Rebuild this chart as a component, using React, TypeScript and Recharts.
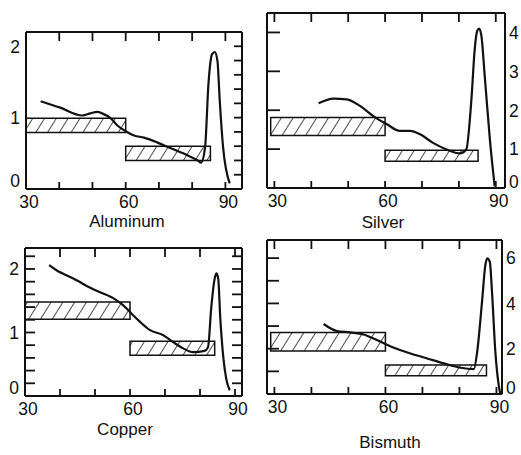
import React from "react";
import { LineChart, Line, XAxis, YAxis, ReferenceArea, ReferenceLine } from "recharts";

// x axis (angle) shared by all four panels
const xTicks = [30, 40, 50, 60, 70, 80, 90];
const xLabels = [30, 60, 90];

// Aluminum
const alX = [34.4, 40.3, 46.9, 49.4, 51.4, 52.9, 55.5, 57.5, 60, 62.5, 65.5, 69.6, 73.6, 78.7, 81.7, 82.7, 83.9, 84.9, 86, 86.8, 87.6, 88.3, 89.3, 91.3];
const alY = [1.23, 1.14, 1.03, 1.06, 1.08, 1.06, 0.99, 0.89, 0.81, 0.75, 0.72, 0.65, 0.57, 0.47, 0.4, 0.37, 0.59, 1.47, 1.89, 1.92, 1.8, 1.24, 0.59, 0.08];
const alBands = [
  { x1: 30, x2: 60, y1: 0.79, y2: 0.99 },
  { x1: 60, x2: 85.5, y1: 0.4, y2: 0.6 },
];
const alTicks = [0.2, 0.4, 0.6, 0.8, 1, 1.2, 1.4, 1.6, 1.8, 2];

// Silver
const agX = [42, 46, 49.6, 53.2, 56.8, 60.5, 64, 66.8, 69.5, 73, 76.7, 80.3, 82, 83.4, 84.3, 85, 85.5, 86.1, 87, 88.4, 89.7];
const agY = [2.18, 2.3, 2.28, 2.11, 1.85, 1.64, 1.47, 1.47, 1.38, 1.16, 0.99, 0.89, 0.99, 2.28, 3.58, 4.05, 4.1, 3.92, 2.89, 1.25, 0.04];
const agBands = [
  { x1: 29, x2: 60, y1: 1.35, y2: 1.81 },
  { x1: 60, x2: 85.2, y1: 0.69, y2: 0.97 },
];
const agTicks = [0, 1, 2, 3, 4];

// Copper
const cuX = [36.9, 39, 43.8, 49.5, 55.2, 58, 60.4, 62.8, 65.6, 69.4, 72.3, 75.2, 78, 81.3, 82.3, 83.2, 84.2, 84.7, 85.2, 85.8, 86.7, 87.5, 88.5];
const cuY = [2.06, 1.98, 1.85, 1.68, 1.54, 1.43, 1.3, 1.17, 1.04, 0.96, 0.85, 0.75, 0.69, 0.71, 0.77, 1.38, 1.85, 1.93, 1.85, 1.22, 0.59, 0.27, 0.09];
const cuBands = [
  { x1: 30, x2: 60, y1: 1.21, y2: 1.48 },
  { x1: 60, x2: 84.2, y1: 0.64, y2: 0.86 },
];
const cuTicks = [0, 0.2, 0.4, 0.6, 0.8, 1, 1.2, 1.4, 1.6, 1.8, 2, 2.2];

// Bismuth
const biX = [43.3, 46.9, 50.5, 54.1, 57.7, 62.3, 66.8, 71.3, 75.8, 80.3, 83.9, 84.8, 86.1, 87, 87.5, 88.2, 88.8, 89.7, 90.6, 91];
const biY = [3.09, 2.78, 2.72, 2.63, 2.38, 2.04, 1.79, 1.57, 1.35, 1.16, 1.1, 1.87, 4.07, 5.69, 5.99, 5.84, 4.51, 1.87, 0.4, 0.03];
const biBands = [
  { x1: 29, x2: 60, y1: 1.9, y2: 2.72 },
  { x1: 60, x2: 87.3, y1: 0.81, y2: 1.28 },
];
const biTicks = [0, 1, 2, 3, 4, 5, 6];
const biLabels = [0, 2, 4, 6];

const INK = "#111";
const FONT = "'Liberation Sans', Arial, sans-serif";

const mkTick = (side: string, len: number, labels: number[]) => (p: any) => {
  const { x, y, payload } = p;
  const v = payload.value;
  const show = labels.includes(v);
  let x2 = x, y2 = y;
  let tx = x, ty = y, anchor = "middle", dy = "0.36em";
  if (side === "bottom") {
    y2 = y - len; tx = x + 3; ty = y + 7; dy = "0.71em";
  } else if (side === "top") {
    y2 = y + len;
  } else if (side === "left") {
    x2 = x + len; tx = x - 6; ty = v === 0 ? y - 8 : y; anchor = "end";
  } else {
    x2 = x - len; tx = x + 4; ty = v === 0 ? y - 6 : y; anchor = "start";
  }
  return (
    <g>
      {len > 0 && <line x1={x} x2={x2} y1={y} y2={y2} stroke={INK} strokeWidth={1.8} />}
      {show && (
        <text x={tx} y={ty} dy={dy} textAnchor={anchor} fill={INK} fontSize={17.5} fontFamily={FONT}>{v}</text>
      )}
    </g>
  );
};

function Panel(props: any) {
  const {
    id, left, top, width, height, margin, xDomain, yDomain, xs, ys, bands,
    leftW, rightW, leftTicks, rightTicks, leftLen, rightLen, leftLabels, rightLabels,
    title, titleX, titleY,
  } = props;
  const data = xs.map((x: number, i: number) => ({ x, y: ys[i] }));
  const axisLine = { stroke: INK, strokeWidth: 2 };

  // inward tick marks on top, bottom and right edges, as short segments in data units
  const plotW = width - margin.left - margin.right - leftW - rightW;
  const plotH = height - margin.top - margin.bottom - 31;
  const [x0, x1] = xDomain;
  const [y0, y1] = yDomain;
  const perPxX = (x1 - x0) / plotW;
  const perPxY = (y1 - y0) / plotH;
  const innerX = xTicks.filter((v) => v > x0 && v < x1);
  const innerR = rightTicks.filter((v: number) => v > y0 && v < y1);
  const segs: any[] = [];
  innerX.forEach((v) => {
    segs.push([{ x: v, y: y0 }, { x: v, y: y0 + 7 * perPxY }]);
    segs.push([{ x: v, y: y1 }, { x: v, y: y1 - 9 * perPxY }]);
  });
  if (rightLen > 0) {
    innerR.forEach((v: number) => {
      segs.push([{ x: x1, y: v }, { x: x1 - rightLen * perPxX, y: v }]);
    });
  }

  return (
    <>
      <div style={{ position: "absolute", left, top }}>
        <LineChart width={width} height={height} data={data} margin={margin}>
          <defs>
            <pattern id={id} patternUnits="userSpaceOnUse" width={10} height={10} patternTransform="rotate(32)">
              <line x1={0} y1={0} x2={0} y2={10} stroke={INK} strokeWidth={1.5} />
            </pattern>
          </defs>
          <XAxis xAxisId="b" dataKey="x" type="number" domain={xDomain} ticks={xTicks} interval={0}
            allowDataOverflow height={30} tickSize={0} tickMargin={0} axisLine={axisLine} tickLine={false}
            tick={mkTick("bottom", 0, xLabels)} />
          <XAxis xAxisId="t" orientation="top" dataKey="x" type="number" domain={xDomain} ticks={xTicks} interval={0}
            allowDataOverflow height={1} tickSize={0} tickMargin={0} axisLine={axisLine} tickLine={false}
            tick={false} />
          <YAxis yAxisId="l" type="number" domain={yDomain} ticks={leftTicks} interval={0} allowDataOverflow
            width={leftW} tickSize={0} tickMargin={0} axisLine={axisLine} tickLine={false}
            tick={mkTick("left", leftLen, leftLabels)} />
          <YAxis yAxisId="r" orientation="right" type="number" domain={yDomain} ticks={rightTicks} interval={0}
            allowDataOverflow width={rightW} tickSize={0} tickMargin={0} axisLine={axisLine} tickLine={false}
            tick={mkTick("right", 0, rightLabels)} />
          {bands.map((b: any, i: number) => (
            <ReferenceArea key={i} xAxisId="b" yAxisId="l" x1={b.x1} x2={b.x2} y1={b.y1} y2={b.y2}
              fill={`url(#${id})`} fillOpacity={1} stroke={INK} strokeWidth={1.5} ifOverflow="extendDomain" />
          ))}
          {segs.map((s, i) => (
            <ReferenceLine key={`s${i}`} xAxisId="b" yAxisId="l" segment={s} stroke={INK} strokeWidth={1.8}
              ifOverflow="visible" />
          ))}
          <Line xAxisId="t" yAxisId="r" dataKey="y" stroke="none" dot={false} activeDot={false}
            legendType="none" isAnimationActive={false} />
          <Line xAxisId="b" yAxisId="l" dataKey="y" type="monotone" stroke={INK} strokeWidth={2.2}
            dot={false} isAnimationActive={false} />
        </LineChart>
      </div>
      <div style={{
        position: "absolute", left: titleX - 60, top: titleY - 10, width: 120, lineHeight: "20px",
        textAlign: "center", fontSize: 17, fontFamily: FONT, color: INK,
      }}>{title}</div>
    </>
  );
}

export default function App() {
  return (
    <div style={{ position: "absolute", left: 0, top: 0, width: 521, height: 455, background: "#fff", overflow: "hidden" }}>
      <Panel id="hAl" left={0} top={0} width={260} height={232}
        margin={{ top: 31, left: 0, right: 17, bottom: 13 }}
        xDomain={[30, 95]} yDomain={[0, 2.2]} xs={alX} ys={alY} bands={alBands}
        leftW={26} rightW={1} leftTicks={[0, 1, 2]} rightTicks={alTicks} leftLen={0} rightLen={8}
        leftLabels={[0, 1, 2]} rightLabels={[]} title="Aluminum" titleX={127} titleY={222} />
      <Panel id="hAg" left={260} top={0} width={261} height={232}
        margin={{ top: 12, left: 6, right: 0, bottom: 14 }}
        xDomain={[28, 92.5]} yDomain={[0, 4.5]} xs={agX} ys={agY} bands={agBands}
        leftW={1} rightW={16} leftTicks={agTicks} rightTicks={agTicks} leftLen={13} rightLen={0}
        leftLabels={[]} rightLabels={agTicks} title="Silver" titleX={383} titleY={223} />
      <Panel id="hCu" left={0} top={232} width={260} height={223}
        margin={{ top: 15, left: 0, right: 17, bottom: 29 }}
        xDomain={[30, 92]} yDomain={[0, 2.33]} xs={cuX} ys={cuY} bands={cuBands}
        leftW={25} rightW={1} leftTicks={cuTicks} rightTicks={cuTicks} leftLen={10} rightLen={10}
        leftLabels={[0, 1, 2]} rightLabels={[]} title="Copper" titleX={125} titleY={430} />
      <Panel id="hBi" left={260} top={232} width={261} height={223}
        margin={{ top: 7, left: 6, right: 0, bottom: 31 }}
        xDomain={[28, 91.5]} yDomain={[0, 6.8]} xs={biX} ys={biY} bands={biBands}
        leftW={1} rightW={19} leftTicks={biTicks} rightTicks={biTicks} leftLen={12} rightLen={0}
        leftLabels={[]} rightLabels={biLabels} title="Bismuth" titleX={390} titleY={443} />
    </div>
  );
}
